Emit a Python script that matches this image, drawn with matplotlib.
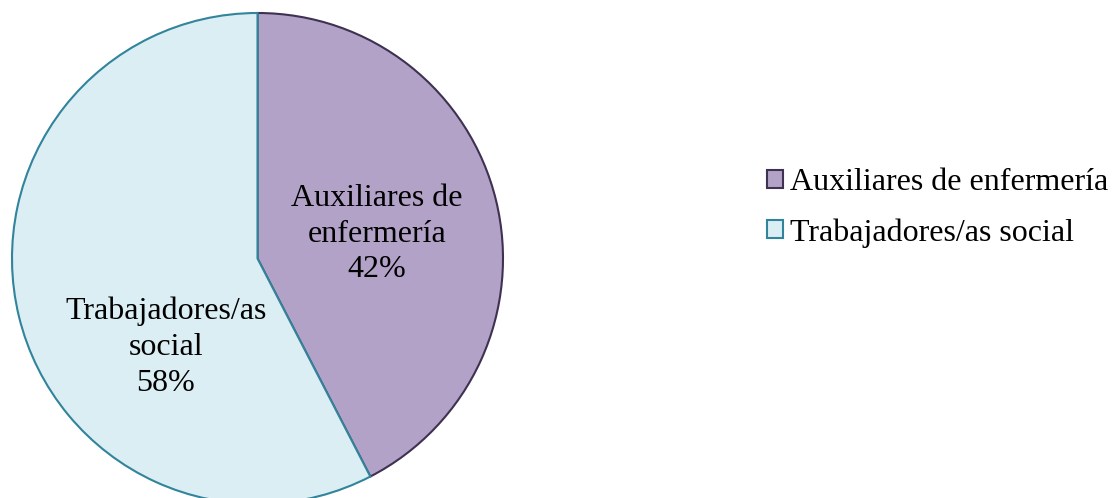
import matplotlib

matplotlib.use("Agg")
import matplotlib.pyplot as plt
from matplotlib.patches import Patch

# Datos del gráfico
categorias = ["Auxiliares de enfermería", "Trabajadores/as social"]
etiquetas = ["Auxiliares de\nenfermería\n42%", "Trabajadores/as\nsocial\n58%"]
valores = [42.4, 57.6]  # el corte del dibujo cae en ~42.4%

COLORES = ["#b2a2c7", "#dbeef3"]
BORDES = ["#3f3151", "#31849b"]

plt.rcParams["font.family"] = ["Liberation Serif", "DejaVu Serif"]

W, H = 1113, 498
fig = plt.figure(figsize=(W / 100, H / 100), dpi=100)
ax = fig.add_axes([0, 0, 1, 1])

# Pie en coordenadas de píxel (y hacia arriba)
cx, cy, r = 257.5, H - 258.5, 245.5
wedges, _ = ax.pie(valores, colors=COLORES, startangle=90, counterclock=False,
                   center=(cx, cy), radius=r,
                   wedgeprops=dict(linewidth=1.5))
for w, b in zip(wedges, BORDES):
    w.set_edgecolor(b)

# Etiquetas internas
ax.text(377, H - 234, etiquetas[0], ha="center", va="center", fontsize=23,
        linespacing=1.31, color="black")
ax.text(166, H - 347, etiquetas[1], ha="center", va="center", fontsize=23,
        linespacing=1.31, color="black")

ax.set_xlim(0, W)
ax.set_ylim(0, H)
ax.set_aspect("auto")
ax.axis("off")

handles = [Patch(facecolor=c, edgecolor=b, linewidth=1.5) for c, b in zip(COLORES, BORDES)]
fig.legend(handles, categorias, loc="center left",
           bbox_to_anchor=(767 / W, (H - 208) / H), frameon=False,
           fontsize=23, handlelength=0.5, handleheight=0.5,
           handletextpad=0.22, labelspacing=0.65, borderpad=0, borderaxespad=0)

fig.savefig("out.png", dpi=100, facecolor="white")
